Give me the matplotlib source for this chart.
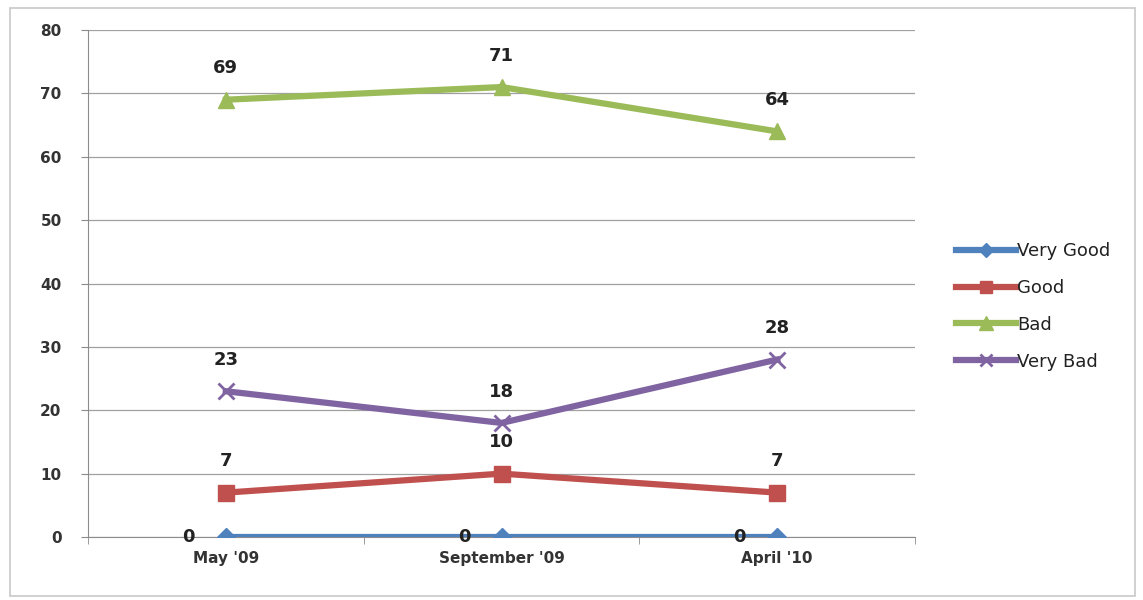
import numpy as np
import matplotlib.pyplot as plt
from matplotlib.patches import Rectangle

months = ["May '09", "September '09", "April '10"]
very_good = [0, 0, 0]
good = [7, 10, 7]
bad = [69, 71, 64]
very_bad = [23, 18, 28]

series = [
    ("Very Good", very_good, "#4F81BD", "D", 9),
    ("Good", good, "#C0504D", "s", 11),
    ("Bad", bad, "#9BBB59", "^", 12),
    ("Very Bad", very_bad, "#8064A2", "x", 11),
]

plt.rcParams['font.family'] = ['DejaVu Sans']

fig = plt.figure(figsize=(11.43, 6), dpi=100)
fig.patches.append(Rectangle((10 / 1143, 4 / 600), 1125 / 1143, 588 / 600,
                             transform=fig.transFigure, fill=False,
                             edgecolor="#c8c8c8", lw=1.2))
ax = fig.add_axes([88 / 1143, 63 / 600, 827 / 1143, 507 / 600])

x = np.arange(len(months))
for name, vals, col, mk, ms in series:
    ax.plot(x, vals, color=col, lw=4.5, marker=mk, ms=ms, mew=2 if mk == "x" else 1,
            mec=col, mfc=col, label=name, zorder=3)

# value labels
for name, vals, col, mk, ms in series:
    for xi, v in zip(x, vals):
        if v == 0:
            ax.annotate(str(v), (xi, v), xytext=(-27, 0), textcoords="offset points",
                        ha="center", va="center", fontsize=13, fontweight="bold",
                        color="#222222", zorder=4)
        else:
            ax.annotate(str(v), (xi, v), xytext=(0, 16), textcoords="offset points",
                        ha="center", va="bottom", fontsize=13, fontweight="bold",
                        color="#222222", zorder=4)

ax.set_xlim(-0.5, 2.5)
ax.set_ylim(0, 80)
ax.set_yticks(range(0, 81, 10))
ax.yaxis.grid(True, color="#a0a0a0", lw=0.9)
ax.set_axisbelow(True)
ax.set_xticks(x)
ax.set_xticklabels(months, fontsize=11, fontweight="bold", color="#333333")
ax.set_xticks([-0.5, 0.5, 1.5, 2.5], minor=True)
ax.tick_params(axis="x", which="major", length=0, pad=10)
ax.tick_params(axis="x", which="minor", length=5, color="#8c8c8c", direction="out")
ax.tick_params(axis="y", length=5, color="#8c8c8c", labelsize=11, labelcolor="#333333", pad=14)
for lbl in ax.get_yticklabels():
    lbl.set_fontweight("bold")
for s in ["top", "right"]:
    ax.spines[s].set_visible(False)
ax.spines["left"].set_color("#8c8c8c")
ax.spines["bottom"].set_color("#8c8c8c")

leg = ax.legend(loc="center left", bbox_to_anchor=(1.03, 0.455), frameon=False,
                handlelength=3.3, handletextpad=0.1, labelspacing=1.05,
                markerscale=0.8, prop={"size": 13})
for t in leg.get_texts():
    t.set_color("#222222")

fig.savefig("out.png", dpi=100)
